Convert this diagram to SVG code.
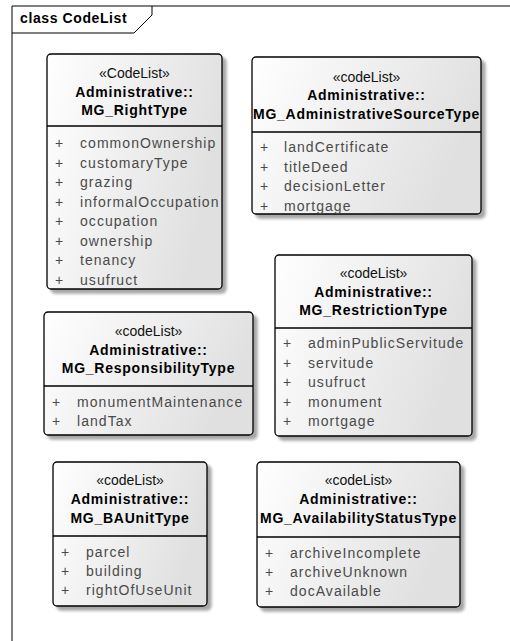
<svg xmlns="http://www.w3.org/2000/svg" width="510" height="641" viewBox="0 0 510 641">
  <defs>
    <linearGradient id="boxFill" x1="0" y1="0" x2="1" y2="0.3">
      <stop offset="0" stop-color="#ffffff"/>
      <stop offset="1" stop-color="#e0e0e0"/>
    </linearGradient>
    <filter id="shadow" x="-10%" y="-10%" width="125%" height="125%">
      <feGaussianBlur in="SourceAlpha" stdDeviation="1.5"/>
      <feOffset dx="4" dy="4" result="b"/>
      <feComponentTransfer><feFuncA type="linear" slope="0.35"/></feComponentTransfer>
      <feMerge><feMergeNode/><feMergeNode in="SourceGraphic"/></feMerge>
    </filter>
  </defs>
  <style>
    .frame { fill: none; stroke: #000; stroke-width: 1; }
    .frameTitle { font-family: "Liberation Sans", Arial, sans-serif; font-size: 14px; font-weight: bold; letter-spacing: 0.6px; fill: #000; }
    .box { fill: url(#boxFill); stroke: #000; stroke-width: 1.3; filter: url(#shadow); }
    .sep { stroke: #000; stroke-width: 1.3; }
    .stereo { font-family: "Liberation Sans", Arial, sans-serif; font-size: 14px; text-anchor: middle; fill: #111; }
    .name { font-family: "Liberation Sans", Arial, sans-serif; font-size: 14px; font-weight: bold; text-anchor: middle; fill: #000; letter-spacing: 0.75px; }
    .attr { font-family: "Liberation Sans", Arial, sans-serif; font-size: 14px; fill: #4a4a4a; letter-spacing: 1.05px; }
    .vis { font-family: "Liberation Sans", Arial, sans-serif; font-size: 14px; fill: #4a4a4a; }
  </style>

  <!-- diagram frame with its name tab -->
  <g id="frame">
    <path class="frame" d="M12,641 V6 H510"/>
    <path class="frame" d="M12,33 H134 L152,15 V6"/>
    <text class="frameTitle" x="20" y="23">class CodeList</text>
  </g>

  <g id="connectors"></g>

  <!-- MG_RightType -->
  <g id="MG_RightType">
    <rect class="box" x="47" y="54" width="175" height="235" rx="4"/>
    <line class="sep" x1="47" y1="126" x2="222" y2="126"/>
    <text class="stereo" x="134.5" y="78">«CodeList»</text>
    <text class="name" x="134.5" y="97">Administrative::</text>
    <text class="name" x="134.5" y="115">MG_RightType</text>
    <g class="vis">
      <text x="55" y="148">+</text><text x="55" y="167.5">+</text><text x="55" y="187">+</text><text x="55" y="206.5">+</text>
      <text x="55" y="226">+</text><text x="55" y="245.5">+</text><text x="55" y="265">+</text><text x="55" y="284.5">+</text>
    </g>
    <text class="attr" x="80" y="148">commonOwnership</text>
    <text class="attr" x="80" y="167.5">customaryType</text>
    <text class="attr" x="80" y="187">grazing</text>
    <text class="attr" x="80" y="206.5">informalOccupation</text>
    <text class="attr" x="80" y="226">occupation</text>
    <text class="attr" x="80" y="245.5">ownership</text>
    <text class="attr" x="80" y="265">tenancy</text>
    <text class="attr" x="80" y="284.5">usufruct</text>
  </g>

  <!-- MG_AdministrativeSourceType -->
  <g id="MG_AdministrativeSourceType">
    <rect class="box" x="252" y="57" width="229" height="157" rx="4"/>
    <line class="sep" x1="252" y1="132" x2="481" y2="132"/>
    <text class="stereo" x="366.5" y="82">«codeList»</text>
    <text class="name" x="366.5" y="100">Administrative::</text>
    <text class="name" x="366.5" y="119">MG_AdministrativeSourceType</text>
    <g class="vis">
      <text x="260" y="152">+</text><text x="260" y="171.5">+</text><text x="260" y="191">+</text><text x="260" y="210.5">+</text>
    </g>
    <text class="attr" x="284" y="152">landCertificate</text>
    <text class="attr" x="284" y="171.5">titleDeed</text>
    <text class="attr" x="284" y="191">decisionLetter</text>
    <text class="attr" x="284" y="210.5">mortgage</text>
  </g>

  <!-- MG_RestrictionType -->
  <g id="MG_RestrictionType">
    <rect class="box" x="275" y="255" width="197" height="181" rx="4"/>
    <line class="sep" x1="275" y1="328" x2="472" y2="328"/>
    <text class="stereo" x="373.5" y="278">«codeList»</text>
    <text class="name" x="373.5" y="297">Administrative::</text>
    <text class="name" x="373.5" y="315">MG_RestrictionType</text>
    <g class="vis">
      <text x="283" y="348">+</text><text x="283" y="367.5">+</text><text x="283" y="387">+</text><text x="283" y="406.5">+</text><text x="283" y="426">+</text>
    </g>
    <text class="attr" x="308" y="348">adminPublicServitude</text>
    <text class="attr" x="308" y="367.5">servitude</text>
    <text class="attr" x="308" y="387">usufruct</text>
    <text class="attr" x="308" y="406.5">monument</text>
    <text class="attr" x="308" y="426">mortgage</text>
  </g>

  <!-- MG_ResponsibilityType -->
  <g id="MG_ResponsibilityType">
    <rect class="box" x="44" y="312" width="209" height="123" rx="4"/>
    <line class="sep" x1="44" y1="386" x2="253" y2="386"/>
    <text class="stereo" x="148.5" y="336">«codeList»</text>
    <text class="name" x="148.5" y="354.5">Administrative::</text>
    <text class="name" x="148.5" y="373">MG_ResponsibilityType</text>
    <g class="vis">
      <text x="52" y="407">+</text><text x="52" y="426">+</text>
    </g>
    <text class="attr" x="77" y="407">monumentMaintenance</text>
    <text class="attr" x="77" y="426">landTax</text>
  </g>

  <!-- MG_BAUnitType -->
  <g id="MG_BAUnitType">
    <rect class="box" x="53" y="462" width="154" height="144" rx="4"/>
    <line class="sep" x1="53" y1="536" x2="207" y2="536"/>
    <text class="stereo" x="130" y="485">«codeList»</text>
    <text class="name" x="130" y="504">Administrative::</text>
    <text class="name" x="130" y="523">MG_BAUnitType</text>
    <g class="vis">
      <text x="61" y="557">+</text><text x="61" y="576">+</text><text x="61" y="595">+</text>
    </g>
    <text class="attr" x="86" y="557">parcel</text>
    <text class="attr" x="86" y="576">building</text>
    <text class="attr" x="86" y="595">rightOfUseUnit</text>
  </g>

  <!-- MG_AvailabilityStatusType -->
  <g id="MG_AvailabilityStatusType">
    <rect class="box" x="257" y="462" width="203" height="145" rx="4"/>
    <line class="sep" x1="257" y1="537" x2="460" y2="537"/>
    <text class="stereo" x="358.5" y="485">«codeList»</text>
    <text class="name" x="358.5" y="504">Administrative::</text>
    <text class="name" x="358.5" y="523">MG_AvailabilityStatusType</text>
    <g class="vis">
      <text x="265" y="558">+</text><text x="265" y="577">+</text><text x="265" y="596">+</text>
    </g>
    <text class="attr" x="290" y="558">archiveIncomplete</text>
    <text class="attr" x="290" y="577">archiveUnknown</text>
    <text class="attr" x="290" y="596">docAvailable</text>
  </g>
</svg>
